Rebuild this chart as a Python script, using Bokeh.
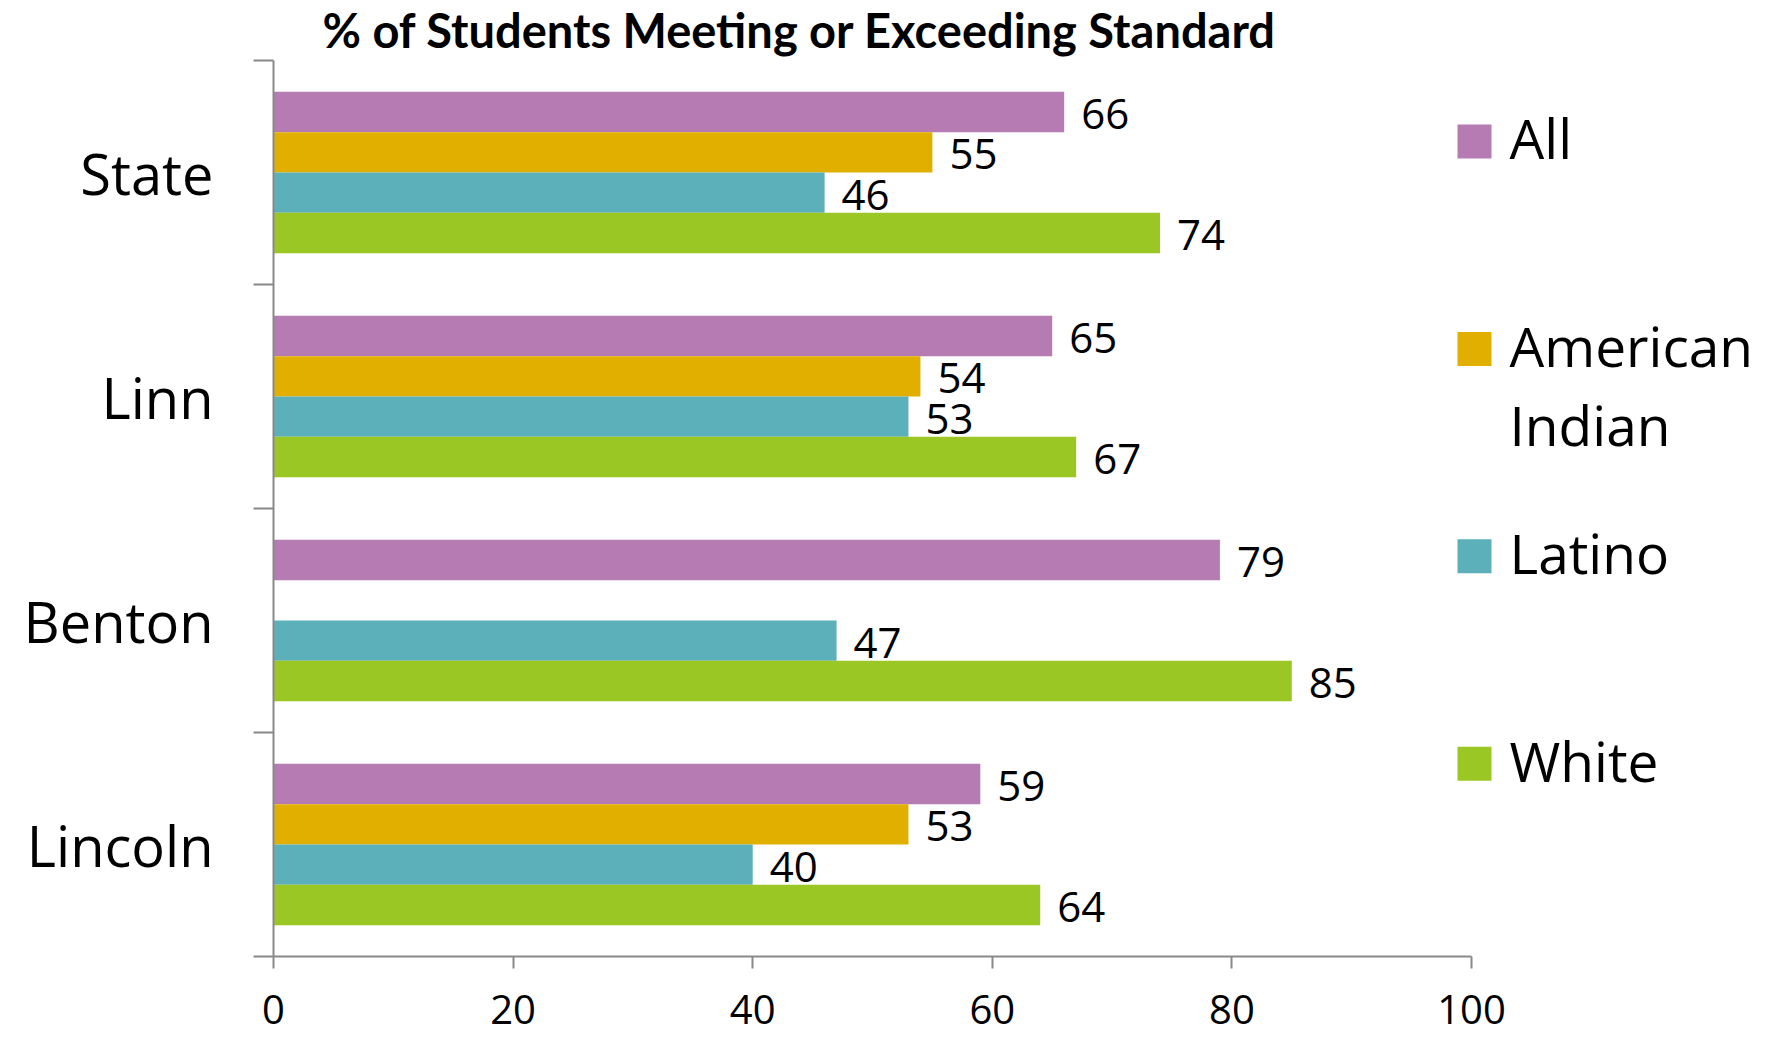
from bokeh.plotting import figure
from bokeh.models import Range1d, FixedTicker, LinearAxis, Title, ColumnDataSource
from bokeh.core.properties import value
from bokeh.embed import file_html
from bokeh.resources import INLINE

# ---- data ----
categories = ["State", "Linn", "Benton", "Lincoln"]
groups = ["All", "American Indian", "Latino", "White"]
all_students = [66, 65, 79, 59]
american_indian = [55, 54, None, 53]
latino = [46, 53, 47, 40]
white = [74, 67, 85, 64]
x_ticks = [0, 20, 40, 60, 80, 100]
title_text = "% of Students Meeting or Exceeding Standard"

series = [all_students, american_indian, latino, white]
colors = ["#B77BB4", "#E0AF00", "#5BB0BA", "#9AC723"]

# ---- layout (pixels) ----
W, H = 1768, 1037
LEFT = 273          # frame left (x = 0)
X100 = 1471         # pixel of x = 100
TOP = 59            # frame top
BOTTOM = 956        # x axis line
xmax = 100 * (W - LEFT) / (X100 - LEFT)
n = len(categories)
px_per_unit_y = (BOTTOM - TOP) / n
bar_h = 0.18
axis_gray = "#898989"
FONT = "Open Sans"

p = figure(width=W, height=H, x_range=Range1d(0, xmax), y_range=Range1d(0, n),
           output_backend="svg", toolbar_location=None,
           x_axis_type=None, y_axis_type=None,
           min_border_left=LEFT, min_border_right=0, min_border_top=TOP,
           min_border_bottom=H - BOTTOM)
p.outline_line_color = None
p.background_fill_color = "white"
p.border_fill_color = "white"

# title
p.title = Title(text=title_text, align="left", offset=49, standoff=2,
                vertical_align="top",
                text_font="Lato", text_font_style="bold",
                text_font_size="47px", text_color="black")

# bars + value labels
for j, (name, vals, col) in enumerate(zip(groups, series, colors)):
    ys, xs, txt = [], [], []
    for i, v in enumerate(vals):
        if v is None:
            continue
        ys.append((n - 1 - i) + 0.5 + (1.5 - j) * bar_h)
        xs.append(v)
        txt.append(str(v))
    src = ColumnDataSource(dict(y=ys, right=xs, text=txt))
    p.hbar(y="y", left=0, right="right", height=bar_h, source=src,
           fill_color=col, line_color=None)
    p.text(x="right", y="y", text="text", source=src, x_offset=17, y_offset=2,
           text_baseline="middle", text_align="left",
           text_font=value(FONT), text_font_size="42px", text_color="black")

# x axis
xaxis = LinearAxis(ticker=FixedTicker(ticks=x_ticks, minor_ticks=[]), bounds=(0, 100))
xaxis.axis_line_color = axis_gray
xaxis.axis_line_width = 2
xaxis.major_tick_line_color = axis_gray
xaxis.major_tick_line_width = 2
xaxis.major_tick_out = 12
xaxis.major_tick_in = 0
xaxis.minor_tick_line_color = None
xaxis.major_label_text_font = FONT
xaxis.major_label_text_font_size = "40px"
xaxis.major_label_text_color = "black"
xaxis.major_label_standoff = 26
p.add_layout(xaxis, "below")

# y axis: labels at category centres, tick marks at category boundaries
centers = [(n - 1 - i) + 0.5 for i in range(n)]
bounds_ticks = [float(k) for k in range(n + 1)]
yaxis = LinearAxis(ticker=FixedTicker(ticks=centers, minor_ticks=bounds_ticks), bounds=(0, n))
yaxis.major_label_overrides = {c: lab for c, lab in zip(centers, categories)}
yaxis.axis_line_color = axis_gray
yaxis.axis_line_width = 2
yaxis.major_tick_line_color = None
yaxis.major_tick_out = 0
yaxis.major_tick_in = 0
yaxis.minor_tick_line_color = axis_gray
yaxis.minor_tick_line_width = 2
yaxis.minor_tick_out = 20
yaxis.minor_tick_in = 0
yaxis.major_label_text_font = FONT
yaxis.major_label_text_font_size = "56px"
yaxis.major_label_text_color = "black"
yaxis.major_label_standoff = 40
p.add_layout(yaxis, "left")

# legend (drawn inside the extended frame, right of x = 100)
leg_px_top = 140
leg_px_step = 207.7
leg_x = (1474 - LEFT) / (X100 - LEFT) * 100
leg_y = [(BOTTOM - (leg_px_top + k * leg_px_step)) / px_per_unit_y for k in range(len(groups))]
leg_src = ColumnDataSource(dict(x=[leg_x] * len(groups), y=leg_y, color=colors,
                                text=[g.replace(" ", "\n") for g in groups]))
p.scatter(x="x", y="y", source=leg_src, marker="square", size=34,
          fill_color="color", line_color=None)
p.text(x="x", y="y", text="text", source=leg_src, x_offset=35, y_offset=-41,
       text_baseline="top", text_align="left", text_line_height=1.06,
       text_font=value(FONT), text_font_size="55px", text_color="black")

open("out.html", "w").write(file_html(p, INLINE))
